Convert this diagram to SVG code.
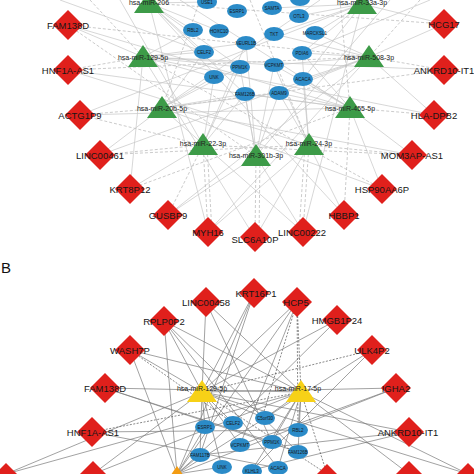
<svg xmlns="http://www.w3.org/2000/svg" xmlns:xlink="http://www.w3.org/1999/xlink" width="474" height="474" viewBox="0 0 474 474">
<style>
.bg{fill:#ffffff}
.dia{fill:#e0201c}
.tg{fill:#3d9b48}
.ty{fill:#f7d117}
.to{fill:#f39c12}
.el{fill:#2b8bc8}
.dl{font-family:"Liberation Sans",Arial,sans-serif;font-size:9.5px;fill:#161616;text-anchor:middle}
.tl{font-family:"Liberation Sans",Arial,sans-serif;font-size:7px;fill:#222;text-anchor:middle}
.eln{font-family:"Liberation Sans",Arial,sans-serif;font-size:4.5px;fill:#1a1a1a;text-anchor:middle}
.pl{font-family:"Liberation Sans",Arial,sans-serif;font-size:15px;fill:#111}
.ea line{stroke:#c6c6c6;stroke-width:0.7}
.ea line.d{stroke:#b4b4b4;stroke-dasharray:3 2}
.eb line{stroke:#7a7a7a;stroke-width:0.7}
.eb line.d{stroke:#555;stroke-dasharray:2 1.5}
</style>
<defs>
<path id="dia" d="M0,-15 L15,0 L0,15 L-15,0Z"/>
<path id="tri" d="M0,-12 L15,10 L-15,10Z"/>
</defs>
<rect class="bg" x="0" y="0" width="474" height="474"/>
<g id="connectors">
<g class="ea">
<line x1="68" y1="25" x2="143" y2="57"/>
<line class="d" x1="68" y1="25" x2="369" y2="57"/>
<line x1="68" y1="25" x2="350" y2="108"/>
<line class="d" x1="68" y1="25" x2="256" y2="156"/>
<line class="d" x1="68" y1="70" x2="143" y2="57"/>
<line class="d" x1="68" y1="70" x2="369" y2="57"/>
<line x1="68" y1="70" x2="350" y2="108"/>
<line x1="68" y1="70" x2="309" y2="145"/>
<line class="d" x1="80" y1="115" x2="162" y2="108"/>
<line x1="80" y1="115" x2="350" y2="108"/>
<line x1="80" y1="115" x2="362" y2="4"/>
<line class="d" x1="80" y1="115" x2="203" y2="145"/>
<line x1="100" y1="155" x2="162" y2="108"/>
<line class="d" x1="100" y1="155" x2="203" y2="145"/>
<line x1="100" y1="155" x2="369" y2="57"/>
<line class="d" x1="100" y1="155" x2="309" y2="145"/>
<line x1="130" y1="189" x2="203" y2="145"/>
<line class="d" x1="130" y1="189" x2="350" y2="108"/>
<line x1="130" y1="189" x2="143" y2="57"/>
<line class="d" x1="168" y1="215" x2="203" y2="145"/>
<line x1="168" y1="215" x2="256" y2="156"/>
<line x1="168" y1="215" x2="369" y2="57"/>
<line class="d" x1="208" y1="232" x2="203" y2="145"/>
<line class="d" x1="212" y1="232" x2="207" y2="145"/>
<line x1="208" y1="232" x2="149" y2="3"/>
<line x1="208" y1="232" x2="309" y2="145"/>
<line x1="208" y1="232" x2="369" y2="57"/>
<line class="d" x1="255" y1="238" x2="256" y2="156"/>
<line class="d" x1="259" y1="238" x2="260" y2="156"/>
<line x1="255" y1="238" x2="143" y2="57"/>
<line x1="255" y1="238" x2="309" y2="145"/>
<line class="d" x1="303" y1="232" x2="309" y2="145"/>
<line class="d" x1="299" y1="232" x2="305" y2="145"/>
<line x1="303" y1="232" x2="256" y2="156"/>
<line x1="303" y1="232" x2="362" y2="4"/>
<line x1="303" y1="232" x2="162" y2="108"/>
<line x1="344" y1="215" x2="309" y2="145"/>
<line class="d" x1="344" y1="215" x2="350" y2="108"/>
<line x1="344" y1="215" x2="149" y2="3"/>
<line x1="382" y1="189" x2="350" y2="108"/>
<line x1="382" y1="189" x2="162" y2="108"/>
<line class="d" x1="382" y1="189" x2="143" y2="57"/>
<line x1="412" y1="155" x2="350" y2="108"/>
<line class="d" x1="412" y1="155" x2="309" y2="145"/>
<line x1="412" y1="155" x2="162" y2="108"/>
<line class="d" x1="412" y1="155" x2="203" y2="145"/>
<line class="d" x1="434" y1="115" x2="350" y2="108"/>
<line x1="434" y1="115" x2="369" y2="57"/>
<line x1="434" y1="115" x2="143" y2="57"/>
<line class="d" x1="444" y1="70" x2="369" y2="57"/>
<line x1="444" y1="70" x2="143" y2="57"/>
<line class="d" x1="444" y1="70" x2="162" y2="108"/>
<line x1="444" y1="24" x2="362" y2="4"/>
<line x1="444" y1="24" x2="369" y2="57"/>
<line class="d" x1="444" y1="24" x2="149" y2="3"/>
<line x1="149" y1="3" x2="207" y2="2"/>
<line x1="149" y1="3" x2="193" y2="30"/>
<line x1="149" y1="3" x2="219" y2="31"/>
<line x1="149" y1="3" x2="204" y2="52"/>
<line x1="149" y1="3" x2="240" y2="67"/>
<line x1="149" y1="3" x2="245" y2="94"/>
<line x1="362" y1="4" x2="272" y2="8"/>
<line x1="362" y1="4" x2="299" y2="16"/>
<line x1="362" y1="4" x2="315" y2="33"/>
<line x1="362" y1="4" x2="302" y2="53"/>
<line x1="362" y1="4" x2="303" y2="79"/>
<line x1="362" y1="4" x2="274" y2="34"/>
<line x1="143" y1="57" x2="193" y2="30"/>
<line x1="143" y1="57" x2="204" y2="52"/>
<line x1="143" y1="57" x2="214" y2="77"/>
<line x1="143" y1="57" x2="240" y2="67"/>
<line x1="143" y1="57" x2="246" y2="43"/>
<line x1="143" y1="57" x2="274" y2="65"/>
<line x1="369" y1="57" x2="315" y2="33"/>
<line x1="369" y1="57" x2="302" y2="53"/>
<line x1="369" y1="57" x2="303" y2="79"/>
<line x1="369" y1="57" x2="274" y2="65"/>
<line x1="369" y1="57" x2="274" y2="34"/>
<line x1="369" y1="57" x2="279" y2="93"/>
<line x1="162" y1="108" x2="214" y2="77"/>
<line x1="162" y1="108" x2="245" y2="94"/>
<line x1="162" y1="108" x2="240" y2="67"/>
<line x1="162" y1="108" x2="204" y2="52"/>
<line x1="162" y1="108" x2="279" y2="93"/>
<line x1="350" y1="108" x2="303" y2="79"/>
<line x1="350" y1="108" x2="279" y2="93"/>
<line x1="350" y1="108" x2="302" y2="53"/>
<line x1="350" y1="108" x2="274" y2="65"/>
<line x1="350" y1="108" x2="245" y2="94"/>
<line x1="203" y1="145" x2="214" y2="77"/>
<line x1="203" y1="145" x2="245" y2="94"/>
<line x1="203" y1="145" x2="240" y2="67"/>
<line x1="203" y1="145" x2="246" y2="43"/>
<line x1="256" y1="156" x2="245" y2="94"/>
<line x1="256" y1="156" x2="279" y2="93"/>
<line x1="256" y1="156" x2="274" y2="65"/>
<line x1="256" y1="156" x2="240" y2="67"/>
<line x1="256" y1="156" x2="246" y2="43"/>
<line x1="309" y1="145" x2="303" y2="79"/>
<line x1="309" y1="145" x2="279" y2="93"/>
<line x1="309" y1="145" x2="274" y2="65"/>
<line x1="309" y1="145" x2="302" y2="53"/>
<line x1="120" y1="0" x2="203" y2="145"/>
<line x1="390" y1="0" x2="256" y2="156"/>
<line x1="180" y1="0" x2="350" y2="108"/>
<line x1="320" y1="0" x2="162" y2="108"/>
<line class="d" x1="250" y1="0" x2="309" y2="145"/>
<line class="d" x1="90" y1="0" x2="143" y2="57"/>
<line class="d" x1="420" y1="0" x2="369" y2="57"/>
<line x1="60" y1="0" x2="204" y2="52"/>
<line x1="430" y1="0" x2="302" y2="53"/>
<line class="d" x1="200" y1="0" x2="162" y2="108"/>
<line class="d" x1="340" y1="0" x2="350" y2="108"/>
</g>
<g class="eb">
<line x1="206" y1="302" x2="202" y2="392"/>
<line x1="206" y1="302" x2="301" y2="392"/>
<line x1="206" y1="302" x2="272" y2="442"/>
<line x1="164" y1="321" x2="202" y2="392"/>
<line x1="164" y1="321" x2="301" y2="392"/>
<line x1="164" y1="321" x2="177" y2="474"/>
<line x1="164" y1="321" x2="298" y2="452"/>
<line x1="164" y1="321" x2="278" y2="468"/>
<line x1="130" y1="350" x2="177" y2="474"/>
<line x1="130" y1="350" x2="202" y2="392"/>
<line x1="254" y1="293" x2="202" y2="392"/>
<line x1="254" y1="293" x2="177" y2="474"/>
<line x1="254" y1="293" x2="200" y2="455"/>
<line x1="297" y1="302" x2="202" y2="392"/>
<line x1="297" y1="302" x2="177" y2="474"/>
<line x1="297" y1="302" x2="240" y2="445"/>
<line class="d" x1="297" y1="302" x2="301" y2="392"/>
<line class="d" x1="297" y1="302" x2="298" y2="430"/>
<line class="d" x1="297" y1="302" x2="262" y2="418"/>
<line x1="337" y1="320" x2="202" y2="392"/>
<line x1="337" y1="320" x2="233" y2="423"/>
<line class="d" x1="372" y1="350" x2="202" y2="392"/>
<line x1="372" y1="350" x2="252" y2="470"/>
<line x1="372" y1="350" x2="177" y2="474"/>
<line x1="105" y1="388" x2="301" y2="392"/>
<line x1="105" y1="388" x2="298" y2="452"/>
<line x1="105" y1="388" x2="272" y2="442"/>
<line class="d" x1="92" y1="432" x2="301" y2="392"/>
<line x1="92" y1="432" x2="278" y2="468"/>
<line x1="92" y1="432" x2="298" y2="430"/>
<line x1="93" y1="474" x2="202" y2="392"/>
<line x1="93" y1="474" x2="301" y2="392"/>
<line x1="396" y1="388" x2="202" y2="392"/>
<line x1="396" y1="388" x2="240" y2="445"/>
<line x1="396" y1="388" x2="177" y2="474"/>
<line x1="409" y1="432" x2="202" y2="392"/>
<line x1="409" y1="432" x2="200" y2="455"/>
<line x1="409" y1="432" x2="252" y2="470"/>
<line x1="409" y1="474" x2="301" y2="392"/>
<line class="d" x1="327" y1="474" x2="202" y2="392"/>
<line class="d" x1="327" y1="474" x2="301" y2="392"/>
<line x1="6" y1="474" x2="202" y2="392"/>
<line x1="6" y1="474" x2="301" y2="392"/>
<line x1="468" y1="474" x2="301" y2="392"/>
<line x1="468" y1="474" x2="202" y2="392"/>
<line x1="202" y1="392" x2="205" y2="427"/>
<line x1="202" y1="392" x2="233" y2="423"/>
<line x1="202" y1="392" x2="265" y2="418"/>
<line x1="202" y1="392" x2="240" y2="445"/>
<line x1="202" y1="392" x2="200" y2="455"/>
<line x1="202" y1="392" x2="222" y2="467"/>
<line x1="301" y1="392" x2="265" y2="418"/>
<line x1="301" y1="392" x2="298" y2="430"/>
<line x1="301" y1="392" x2="272" y2="442"/>
<line x1="301" y1="392" x2="298" y2="452"/>
<line x1="301" y1="392" x2="278" y2="468"/>
<line x1="301" y1="392" x2="252" y2="470"/>
<line x1="177" y1="474" x2="205" y2="427"/>
<line x1="177" y1="474" x2="233" y2="423"/>
<line x1="177" y1="474" x2="200" y2="455"/>
<line x1="177" y1="474" x2="222" y2="467"/>
<line x1="130" y1="350" x2="301" y2="392"/>
<line class="d" x1="130" y1="350" x2="233" y2="423"/>
</g>
</g>
<g id="ellipses-a">
<g id="a-USE1"><ellipse class="el" cx="207" cy="2" rx="10" ry="7"/><text class="eln" x="207" y="3.5">USE1</text></g>
<g id="a-ESRP1"><ellipse class="el" cx="237" cy="11" rx="10" ry="7"/><text class="eln" x="237" y="12.5">ESRP1</text></g>
<g id="a-SAMTA"><ellipse class="el" cx="272" cy="8" rx="10" ry="7"/><text class="eln" x="272" y="9.5">SAMTA</text></g>
<g id="a-top"><ellipse class="el" cx="300" cy="-1" rx="10" ry="7"/></g>
<g id="a-OTL3"><ellipse class="el" cx="299" cy="16" rx="10" ry="7"/><text class="eln" x="299" y="17.5">OTL3</text></g>
<g id="a-RBL2"><ellipse class="el" cx="193" cy="30" rx="10" ry="7"/><text class="eln" x="193" y="31.5">RBL2</text></g>
<g id="a-HOXC10"><ellipse class="el" cx="219" cy="31" rx="10" ry="7"/><text class="eln" x="219" y="32.5">HOXC10</text></g>
<g id="a-TKT"><ellipse class="el" cx="274" cy="34" rx="10" ry="7"/><text class="eln" x="274" y="35.5">TKT</text></g>
<g id="a-MARCKSL1"><ellipse class="el" cx="315" cy="33" rx="10" ry="7"/><text class="eln" x="315" y="34.5">MARCKSL1</text></g>
<g id="a-NEURL1B"><ellipse class="el" cx="246" cy="43" rx="10" ry="7"/><text class="eln" x="246" y="44.5">NEURL1B</text></g>
<g id="a-CELF2"><ellipse class="el" cx="204" cy="52" rx="10" ry="7"/><text class="eln" x="204" y="53.5">CELF2</text></g>
<g id="a-PDIA6"><ellipse class="el" cx="302" cy="53" rx="10" ry="7"/><text class="eln" x="302" y="54.5">PDIA6</text></g>
<g id="a-PPM1K"><ellipse class="el" cx="240" cy="67" rx="10" ry="7"/><text class="eln" x="240" y="68.5">PPM1K</text></g>
<g id="a-VCPKMT"><ellipse class="el" cx="274" cy="65" rx="10" ry="7"/><text class="eln" x="274" y="66.5">VCPKMT</text></g>
<g id="a-UNK"><ellipse class="el" cx="214" cy="77" rx="10" ry="7"/><text class="eln" x="214" y="78.5">UNK</text></g>
<g id="a-ACACA"><ellipse class="el" cx="303" cy="79" rx="10" ry="7"/><text class="eln" x="303" y="80.5">ACACA</text></g>
<g id="a-FAM126B"><ellipse class="el" cx="245" cy="94" rx="10" ry="7"/><text class="eln" x="245" y="95.5">FAM126B</text></g>
<g id="a-ADAM9"><ellipse class="el" cx="279" cy="93" rx="10" ry="7"/><text class="eln" x="279" y="94.5">ADAM9</text></g>
</g>
<g id="triangles-a">
<g id="a-miR-206"><use xlink:href="#tri" class="tg" x="149" y="3"/><text class="tl" x="149" y="5">hsa-miR-206</text></g>
<g id="a-miR-33a-3p"><use xlink:href="#tri" class="tg" x="362" y="4"/><text class="tl" x="362" y="5">hsa-miR-33a-3p</text></g>
<g id="a-miR-129-5p"><use xlink:href="#tri" class="tg" x="143" y="57"/><text class="tl" x="143" y="59.5">hsa-miR-129-5p</text></g>
<g id="a-miR-508-3p"><use xlink:href="#tri" class="tg" x="369" y="57"/><text class="tl" x="369" y="59.5">hsa-miR-508-3p</text></g>
<g id="a-miR-20b-5p"><use xlink:href="#tri" class="tg" x="162" y="108"/><text class="tl" x="162" y="110.5">hsa-miR-20b-5p</text></g>
<g id="a-miR-455-5p"><use xlink:href="#tri" class="tg" x="350" y="108"/><text class="tl" x="350" y="110.5">hsa-miR-455-5p</text></g>
<g id="a-miR-22-3p"><use xlink:href="#tri" class="tg" x="203" y="145"/><text class="tl" x="203" y="146">hsa-miR-22-3p</text></g>
<g id="a-miR-301b-3p"><use xlink:href="#tri" class="tg" x="256" y="156"/><text class="tl" x="256" y="158">hsa-miR-301b-3p</text></g>
<g id="a-miR-24-3p"><use xlink:href="#tri" class="tg" x="309" y="145"/><text class="tl" x="309" y="146">hsa-miR-24-3p</text></g>
</g>
<g id="diamonds-a">
<g id="a-FAM138D"><use xlink:href="#dia" class="dia" x="68" y="25"/><text class="dl" x="68" y="28.5">FAM138D</text></g>
<g id="a-HNF1A-AS1"><use xlink:href="#dia" class="dia" x="68" y="70"/><text class="dl" x="68" y="73.5">HNF1A-AS1</text></g>
<g id="a-ACTG1P9"><use xlink:href="#dia" class="dia" x="80" y="115"/><text class="dl" x="80" y="118.5">ACTG1P9</text></g>
<g id="a-LINC00461"><use xlink:href="#dia" class="dia" x="100" y="155"/><text class="dl" x="100" y="158.5">LINC00461</text></g>
<g id="a-KRT8P12"><use xlink:href="#dia" class="dia" x="130" y="189"/><text class="dl" x="130" y="192.5">KRT8P12</text></g>
<g id="a-GUSBP9"><use xlink:href="#dia" class="dia" x="168" y="215"/><text class="dl" x="168" y="218.5">GUSBP9</text></g>
<g id="a-MYH16"><use xlink:href="#dia" class="dia" x="208" y="232"/><text class="dl" x="208" y="235.5">MYH16</text></g>
<g id="a-SLC6A10P"><use xlink:href="#dia" class="dia" x="255" y="237"/><text class="dl" x="255" y="243">SLC6A10P</text></g>
<g id="a-LINC00222"><use xlink:href="#dia" class="dia" x="303" y="232"/><text class="dl" x="302" y="235.5">LINC00222</text></g>
<g id="a-HBBP1"><use xlink:href="#dia" class="dia" x="344" y="215"/><text class="dl" x="344" y="218.5">HBBP1</text></g>
<g id="a-HSP90AA6P"><use xlink:href="#dia" class="dia" x="382" y="189"/><text class="dl" x="382" y="192.5">HSP90AA6P</text></g>
<g id="a-MOM3AP-AS1"><use xlink:href="#dia" class="dia" x="412" y="155"/><text class="dl" x="412" y="158.5">MOM3AP-AS1</text></g>
<g id="a-HLA-DPB2"><use xlink:href="#dia" class="dia" x="434" y="115"/><text class="dl" x="434" y="118.5">HLA-DPB2</text></g>
<g id="a-ANKRD10-IT1"><use xlink:href="#dia" class="dia" x="444" y="70"/><text class="dl" x="444" y="73.5">ANKRD10-IT1</text></g>
<g id="a-HCG17"><use xlink:href="#dia" class="dia" x="444" y="24"/><text class="dl" x="444" y="27.5">HCG17</text></g>
</g>
<text class="pl" x="1" y="273">B</text>
<g id="ellipses-b">
<g id="b-ESRP1"><ellipse class="el" cx="205" cy="427" rx="10" ry="7"/><text class="eln" x="205" y="428.5">ESRP1</text></g>
<g id="b-CELF2"><ellipse class="el" cx="233" cy="423" rx="10" ry="7"/><text class="eln" x="233" y="424.5">CELF2</text></g>
<g id="b-C5orf30"><ellipse class="el" cx="265" cy="418" rx="10" ry="7"/><text class="eln" x="265" y="419.5">C5orf30</text></g>
<g id="b-RBL2"><ellipse class="el" cx="298" cy="430" rx="10" ry="7"/><text class="eln" x="298" y="431.5">RBL2</text></g>
<g id="b-VCPKMT"><ellipse class="el" cx="240" cy="445" rx="10" ry="7"/><text class="eln" x="240" y="446.5">VCPKMT</text></g>
<g id="b-PPM1K"><ellipse class="el" cx="272" cy="442" rx="10" ry="7"/><text class="eln" x="272" y="443.5">PPM1K</text></g>
<g id="b-FAM117B"><ellipse class="el" cx="200" cy="455" rx="10" ry="7"/><text class="eln" x="200" y="456.5">FAM117B</text></g>
<g id="b-FAM126B"><ellipse class="el" cx="298" cy="452" rx="10" ry="7"/><text class="eln" x="298" y="453.5">FAM126B</text></g>
<g id="b-UNK"><ellipse class="el" cx="222" cy="467" rx="10" ry="7"/><text class="eln" x="222" y="468.5">UNK</text></g>
<g id="b-KLHL3"><ellipse class="el" cx="252" cy="471" rx="10" ry="7"/><text class="eln" x="252" y="472.5">KLHL3</text></g>
<g id="b-ACACA"><ellipse class="el" cx="278" cy="468" rx="10" ry="7"/><text class="eln" x="278" y="469.5">ACACA</text></g>
</g>
<g id="triangles-b">
<g id="b-miR-129-5p"><use xlink:href="#tri" class="ty" x="202" y="392"/><text class="tl" x="202" y="390.5">hsa-miR-129-5p</text></g>
<g id="b-miR-17-5p"><use xlink:href="#tri" class="ty" x="301" y="392"/><text class="tl" x="298" y="391">hsa-miR-17-5p</text></g>
<g id="b-orange"><use xlink:href="#tri" class="to" x="177" y="478"/></g>
</g>
<g id="diamonds-b">
<g id="b-LINC00458"><use xlink:href="#dia" class="dia" x="206" y="302"/><text class="dl" x="206" y="305.5">LINC00458</text></g>
<g id="b-RPLP0P2"><use xlink:href="#dia" class="dia" x="164" y="321"/><text class="dl" x="164" y="324.5">RPLP0P2</text></g>
<g id="b-WASH7P"><use xlink:href="#dia" class="dia" x="130" y="350"/><text class="dl" x="130" y="353.5">WASH7P</text></g>
<g id="b-KRT16P1"><use xlink:href="#dia" class="dia" x="254" y="293"/><text class="dl" x="256" y="296.5">KRT16P1</text></g>
<g id="b-HCP5"><use xlink:href="#dia" class="dia" x="297" y="302"/><text class="dl" x="296" y="305.5">HCP5</text></g>
<g id="b-HMGB1P24"><use xlink:href="#dia" class="dia" x="337" y="320"/><text class="dl" x="337" y="323.5">HMGB1P24</text></g>
<g id="b-ULK4P2"><use xlink:href="#dia" class="dia" x="372" y="350"/><text class="dl" x="372" y="353.5">ULK4P2</text></g>
<g id="b-FAM138D"><use xlink:href="#dia" class="dia" x="105" y="388"/><text class="dl" x="105" y="391.5">FAM138D</text></g>
<g id="b-HNF1A-AS1"><use xlink:href="#dia" class="dia" x="92" y="432"/><text class="dl" x="93" y="435.5">HNF1A-AS1</text></g>
<g id="b-cut1"><use xlink:href="#dia" class="dia" x="93" y="476"/></g>
<g id="b-IGHA2"><use xlink:href="#dia" class="dia" x="396" y="388"/><text class="dl" x="396" y="391.5">IGHA2</text></g>
<g id="b-ANKRD10-IT1"><use xlink:href="#dia" class="dia" x="409" y="432"/><text class="dl" x="408" y="435.5">ANKRD10-IT1</text></g>
<g id="b-cut2"><use xlink:href="#dia" class="dia" x="409" y="476"/></g>
<g id="b-cut3"><use xlink:href="#dia" class="dia" x="327" y="479"/></g>
<g id="b-cut4"><use xlink:href="#dia" class="dia" x="6" y="478"/></g>
<g id="b-cut5"><use xlink:href="#dia" class="dia" x="468" y="478"/></g>
</g>
</svg>
